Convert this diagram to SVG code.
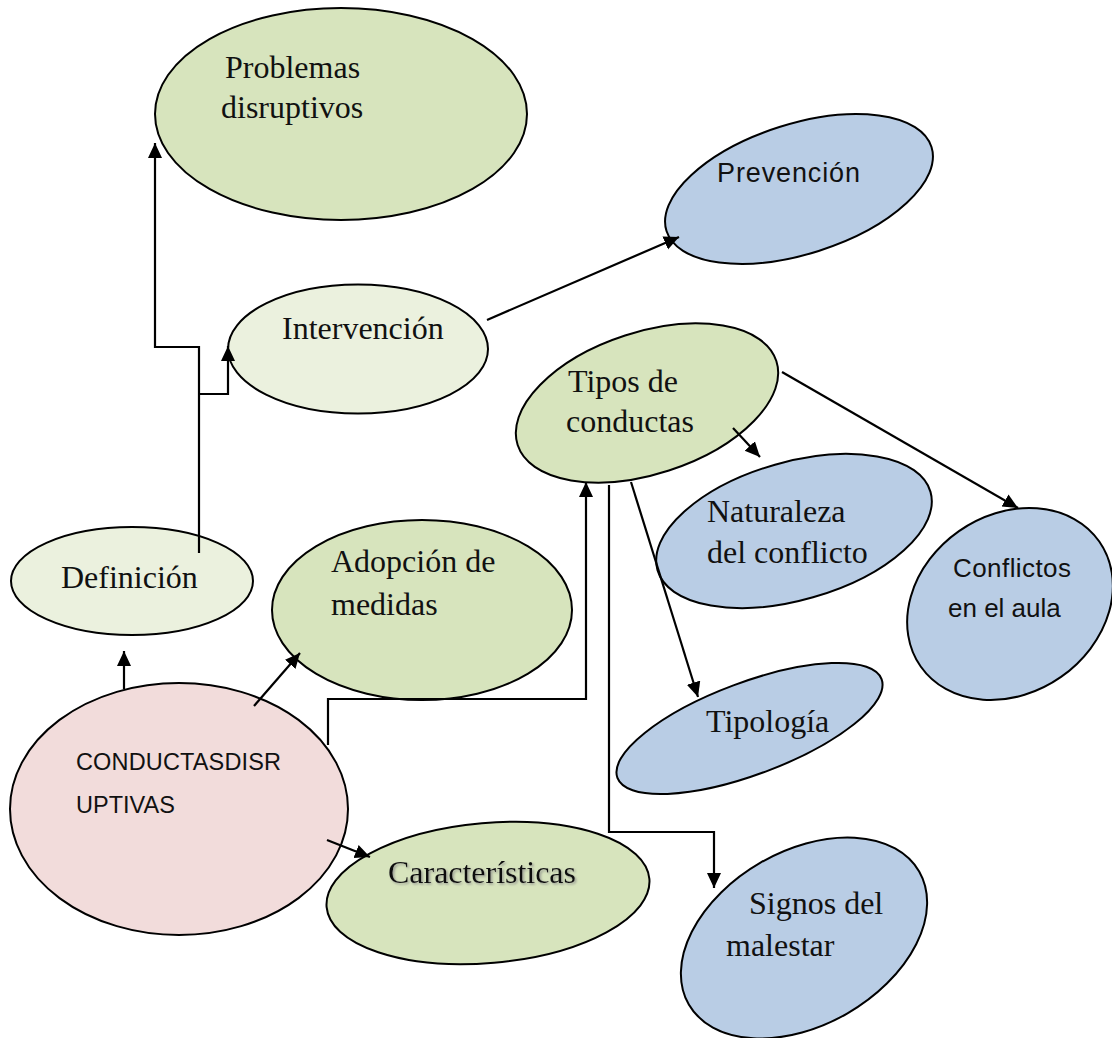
<svg xmlns="http://www.w3.org/2000/svg" width="1112" height="1038" viewBox="0 0 1112 1038">
<defs>
<marker id="ah" markerUnits="userSpaceOnUse" markerWidth="16" markerHeight="16" viewBox="0 0 16 16" refX="15" refY="8" orient="auto">
<path d="M0,1 L15,8 L0,15 z" fill="#000"/>
</marker>
<filter id="sh" x="-10%" y="-30%" width="120%" height="160%">
<feDropShadow dx="1.5" dy="1.5" stdDeviation="0.8" flood-color="#888" flood-opacity="0.8"/>
</filter>
<style>
.n{stroke:#000;stroke-width:2}
.g1{fill:#D7E4BD}
.g2{fill:#EBF1DE}
.b{fill:#B9CDE5}
.p{fill:#F2DCDB}
.s{font-family:"Liberation Serif","Times New Roman",serif;font-size:32px;fill:#111}
.a{font-family:"Liberation Sans",Arial,sans-serif;fill:#111}
.c{fill:none;stroke:#000;stroke-width:2.2;marker-end:url(#ah)}
</style>
</defs>
<rect width="1112" height="1038" fill="#fff"/>
<g id="problemas">
<ellipse class="n g1" cx="341" cy="114" rx="186" ry="106"/>
<text class="s" x="225" y="78">Problemas</text>
<text class="s" x="221" y="118">disruptivos</text>
</g>
<g id="prevencion">
<ellipse class="n b" cx="799" cy="189" rx="139" ry="65" transform="rotate(-17.6 799 189)"/>
<text class="a" x="717" y="182" font-size="27" textLength="143">Prevención</text>
</g>
<g id="intervencion">
<ellipse class="n g2" cx="358" cy="349" rx="130" ry="64.5"/>
<text class="s" x="282" y="339" font-size="29">Intervención</text>
</g>
<g id="tipos">
<ellipse class="n g1" cx="647" cy="403" rx="136" ry="71" transform="rotate(-18 647 403)"/>
<text class="s" x="568" y="392">Tipos de</text>
<text class="s" x="566" y="432">conductas</text>
</g>
<g id="naturaleza">
<ellipse class="n b" cx="794" cy="531" rx="142" ry="69" transform="rotate(-16 794 531)"/>
<text class="s" x="707" y="522">Naturaleza</text>
<text class="s" x="707" y="563">del conflicto</text>
</g>
<g id="conflictos">
<ellipse class="n b" cx="1010" cy="604" rx="109" ry="89" transform="rotate(-35 1010 604)"/>
<text class="a" x="953" y="577" font-size="26" textLength="118">Conflictos</text>
<text class="a" x="948" y="617" font-size="26">en el aula</text>
</g>
<g id="definicion">
<ellipse class="n g2" cx="132" cy="581" rx="121" ry="54"/>
<text class="s" x="61" y="588">Definición</text>
</g>
<g id="adopcion">
<ellipse class="n g1" cx="422" cy="610" rx="150" ry="90"/>
<text class="s" x="331" y="572">Adopción de</text>
<text class="s" x="331" y="615">medidas</text>
</g>
<g id="conductas">
<ellipse class="n p" cx="179" cy="809" rx="169" ry="126"/>
<text class="a" x="76" y="770" font-size="23.5" textLength="205">CONDUCTASDISR</text>
<text class="a" x="76" y="813" font-size="23.5">UPTIVAS</text>
</g>
<g id="caracteristicas">
<ellipse class="n g1" cx="488" cy="893" rx="162" ry="70" transform="rotate(-5 488 893)"/>
<text class="s" x="388" y="883" textLength="188" filter="url(#sh)">Características</text>
</g>
<g id="tipologia">
<ellipse class="n b" cx="749.5" cy="728.5" rx="141" ry="46" transform="rotate(-20.5 749.5 728.5)"/>
<text class="s" x="706" y="732">Tipología</text>
</g>
<g id="signos">
<ellipse class="n b" cx="804" cy="938" rx="133" ry="87" transform="rotate(-30 804 938)"/>
<text class="s" x="749" y="914">Signos del</text>
<text class="s" x="726" y="956">malestar</text>
</g>
<g id="connectors">
<path class="c" d="M199,553 V347 H155 V143"/>
<path class="c" d="M199,394 H228 V346"/>
<path class="c" d="M487,320 L679,237"/>
<path class="c" d="M124,689 V651"/>
<path class="c" d="M254,706 L300,653"/>
<path class="c" d="M328,745 V699 H586 V482"/>
<path class="c" d="M327,840 L370,857"/>
<path class="c" d="M609,485 V832 H714 V888"/>
<path class="c" d="M631,482 L698,697"/>
<path class="c" d="M733,428 L760,457"/>
<path class="c" d="M782,372 L1018,508"/>
</g>
</svg>
